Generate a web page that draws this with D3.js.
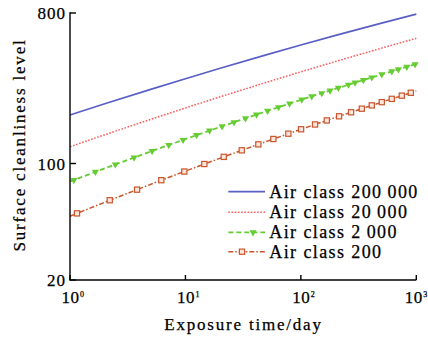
<!DOCTYPE html>
<html><head><meta charset="utf-8">
<script src="https://cdn.jsdelivr.net/npm/d3@7/dist/d3.min.js"></script>
<style>html,body{margin:0;padding:0;background:#fff;} svg{display:block}</style>
</head><body><svg id="c" width="428" height="340"></svg>
<script>
// ---- data ----
const seriesNames = ["Air class 200\u2009000", "Air class 20\u2009000", "Air class 2\u2009000", "Air class 200"];
const blueT = [1, 2, 5, 10, 20, 50, 100, 200, 500, 1000];
const blueV = [195.4, 228.2, 278.6, 322.7, 372.6, 448.3, 513.8, 586.8, 696.0, 788.3];
const redT = [1, 2, 5, 10, 20, 50, 100, 200, 500, 1000];
const redV = [126.1, 148.8, 184.2, 215.5, 251.3, 306.6, 354.9, 409.5, 492.3, 564.0];
// first and last entries are the line ends (no marker)
const greenT = [1, 1.08, 1.66, 2.47, 3.59, 5.14, 7.17, 9.53, 12.48, 16.18, 20.76, 26.37, 33.18, 41.31, 51.45, 64.09, 79.83, 101.8, 124.3, 151.8, 179.1, 211.3, 258.0, 294.9, 347.9, 411.5, 502.3, 613.4, 699.8, 827.6, 976.3, 1000];
const greenV = [78.1, 79.6, 89.1, 98.7, 108.6, 118.8, 129.1, 138.5, 147.9, 157.5, 167.2, 176.9, 186.7, 196.6, 206.8, 217.6, 228.7, 241.6, 252.7, 264.2, 274.1, 284.2, 296.9, 305.6, 316.7, 328.3, 342.5, 357.3, 367.2, 380.4, 393.6, 395.5];
const orangeT = [1, 1.15, 2.21, 3.81, 6.18, 9.78, 14.58, 21.47, 30.75, 42.83, 57.77, 77.93, 100.4, 132.7, 167.7, 214.3, 272.3, 337.2, 411.5, 502.3, 613.4, 748.7, 896, 1000];
const orangeV = [48.3, 50.2, 60.2, 69.7, 79.4, 89.5, 99.3, 109.6, 120.0, 130.3, 140.3, 151.0, 160.5, 171.5, 181.3, 192.0, 203.0, 213.3, 223.2, 233.5, 244.3, 255.4, 265.8, 272.8];
const xTickExp = [0, 1, 2, 3];
const yTickVals = [20, 100, 800];
const xTitle = "Exposure time/day";
const yTitle = "Surface cleanliness level";

// ---- drawing ----
const svg = d3.select("#c");
const x = d3.scaleLog().domain([1, 1000]).range([70, 416.3]);
const y = d3.scaleLog().domain([20, 800]).range([280, 13]);
const serif = "'Liberation Serif','Times New Roman',serif";

const series = [
  {t: blueT, v: blueV, color: "#5a5fc6", dash: null, w: 1.7, marker: null},
  {t: redT, v: redV, color: "#ff5a5a", dash: "1.6,1.6", w: 1.5, marker: null},
  {t: greenT, v: greenV, color: "#66cc33", dash: "5,3", w: 1.8, marker: "tri"},
  {t: orangeT, v: orangeV, color: "#c8552d", dash: "5,2,1.5,2", w: 1.5, marker: "sq"}
];

const line = d3.line().x(d => x(d[0])).y(d => y(d[1]));
const triPath = d3.symbol().type(d3.symbolTriangle).size(22)();

function drawMarker(g, kind, cx, cy, color) {
  if (kind === "tri") {
    g.append("path").attr("d", triPath)
      .attr("transform", `translate(${cx},${cy}) rotate(180)`)
      .attr("fill", color);
  } else if (kind === "sq") {
    g.append("rect").attr("x", cx - 2.6).attr("y", cy - 2.6)
      .attr("width", 5.2).attr("height", 5.2)
      .attr("fill", "#fde6dc").attr("stroke", color).attr("stroke-width", 1.2);
  }
}

series.forEach(s => {
  const pts = s.t.map((t, i) => [t, s.v[i]]);
  svg.append("path").attr("d", line(pts)).attr("fill", "none")
    .attr("stroke", s.color).attr("stroke-width", s.w)
    .attr("stroke-dasharray", s.dash);
  if (s.marker) {
    const g = svg.append("g");
    pts.slice(1, -1).forEach(p => drawMarker(g, s.marker, x(p[0]), y(p[1]), s.color));
  }
});

// axes
const ax = svg.append("g").attr("stroke", "#000").attr("stroke-width", 1.4);
ax.append("line").attr("x1", x(1)).attr("x2", x(1)).attr("y1", y(800) - 0.7).attr("y2", y(20));
ax.append("line").attr("x1", x(1) - 0.7).attr("x2", x(1000)).attr("y1", y(20)).attr("y2", y(20));
yTickVals.forEach(v => {
  ax.append("line").attr("x1", x(1)).attr("x2", x(1) + 6).attr("y1", y(v)).attr("y2", y(v));
});
xTickExp.forEach(e => {
  ax.append("line").attr("x1", x(Math.pow(10, e))).attr("x2", x(Math.pow(10, e)))
    .attr("y1", y(20)).attr("y2", y(20) - 5);
});

const txt = sel => sel.attr("font-family", serif).attr("fill", "#000")
  .attr("stroke", "#000").attr("stroke-width", 0.25);

// tick labels
svg.selectAll("text.yt").data(yTickVals).join("text").attr("class", "yt")
  .attr("x", 66).attr("y", d => y(d) + 6)
  .attr("text-anchor", "end").attr("font-size", 17)
  .attr("letter-spacing", 1).text(d => d).call(txt);

xTickExp.forEach(e => {
  const tx = x(Math.pow(10, e)) - (e === 3 ? 3 : 0);
  svg.append("text").attr("x", tx - 8.5).attr("y", 303)
    .attr("font-size", 17).attr("letter-spacing", 0.5)
    .text("10").call(txt);
  svg.append("text").attr("x", tx + 10).attr("y", 297)
    .attr("font-size", 8).text(e).call(txt);
});

// titles
svg.append("text").attr("x", 243.5).attr("y", 330).attr("text-anchor", "middle")
  .attr("font-size", 17).attr("letter-spacing", 1.8)
  .text(xTitle).call(txt);
svg.append("text").attr("transform", "translate(25,145) rotate(-90)")
  .attr("text-anchor", "middle")
  .attr("font-size", 17).attr("letter-spacing", 1.8)
  .text(yTitle).call(txt);

// legend
const legY = [191.7, 212.3, 232.3, 251.7];
const legMk = [null, null, 253, 242];
series.forEach((s, i) => {
  const g = svg.append("g");
  g.append("line").attr("x1", 228.3).attr("x2", 265).attr("y1", legY[i]).attr("y2", legY[i])
    .attr("stroke", s.color).attr("stroke-width", s.w).attr("stroke-dasharray", s.dash);
  if (s.marker) drawMarker(g, s.marker, legMk[i], legY[i], s.color);
  g.append("text").attr("x", 269.3).attr("y", legY[i] + 6)
    .attr("font-size", 18).attr("letter-spacing", 1.4)
    .text(seriesNames[i]).call(txt);
});
</script></body></html>
